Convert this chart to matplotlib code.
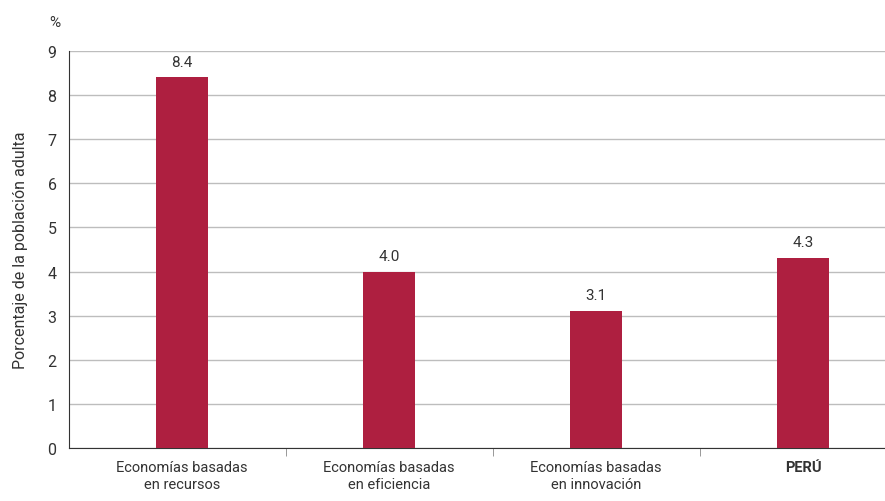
import matplotlib
matplotlib.use("Agg")
import matplotlib.pyplot as plt
from matplotlib.ticker import FixedLocator

categories = ["Economías basadas\nen recursos",
              "Economías basadas\nen eficiencia",
              "Economías basadas\nen innovación",
              "PERÚ"]
values = [8.4, 4.0, 3.1, 4.3]
yticks = list(range(0, 10))

BAR = "#AE1F40"
TXT = "#333333"
plt.rcParams["font.family"] = ["Roboto", "DejaVu Sans"]

fig = plt.figure(figsize=(8.85, 5.02), dpi=100)
ax = fig.add_axes([0.078, 0.1056, 0.922, 0.7908])

x = list(range(len(categories)))
ax.bar(x, values, width=0.25, color=BAR, zorder=3)
for xi, v in zip(x, values):
    ax.text(xi, v + 0.2, f"{v:.1f}", ha="center", va="bottom",
            fontsize=11, color=TXT)

ax.set_xlim(-0.546, 3.396)
ax.set_ylim(0, 9)
ax.set_yticks(yticks)
ax.yaxis.grid(True, color="#BDBDBD", linewidth=1.0, zorder=0)
ax.set_axisbelow(True)

ax.set_xticks(x)
ax.set_xticklabels(categories, fontsize=10.5, color=TXT)
ax.get_xticklabels()[-1].set_fontweight("bold")
ax.xaxis.set_minor_locator(FixedLocator([0.5, 1.5, 2.5]))
ax.tick_params(axis="x", which="major", length=0, pad=9)
ax.tick_params(axis="x", which="minor", length=6, color="#888888", direction="out")
ax.tick_params(axis="y", length=0, pad=9, labelsize=11.5, labelcolor=TXT)

for s in ["top", "right"]:
    ax.spines[s].set_visible(False)
ax.spines["left"].set_color("#333333")
ax.spines["bottom"].set_color("#333333")

ax.set_ylabel("Porcentaje de la población adulta", fontsize=11.5, color=TXT,
              labelpad=14)
fig.text(0.062, 0.955, "%", fontsize=11, color=TXT, ha="center", va="center")

fig.savefig("out.png", dpi=100)
